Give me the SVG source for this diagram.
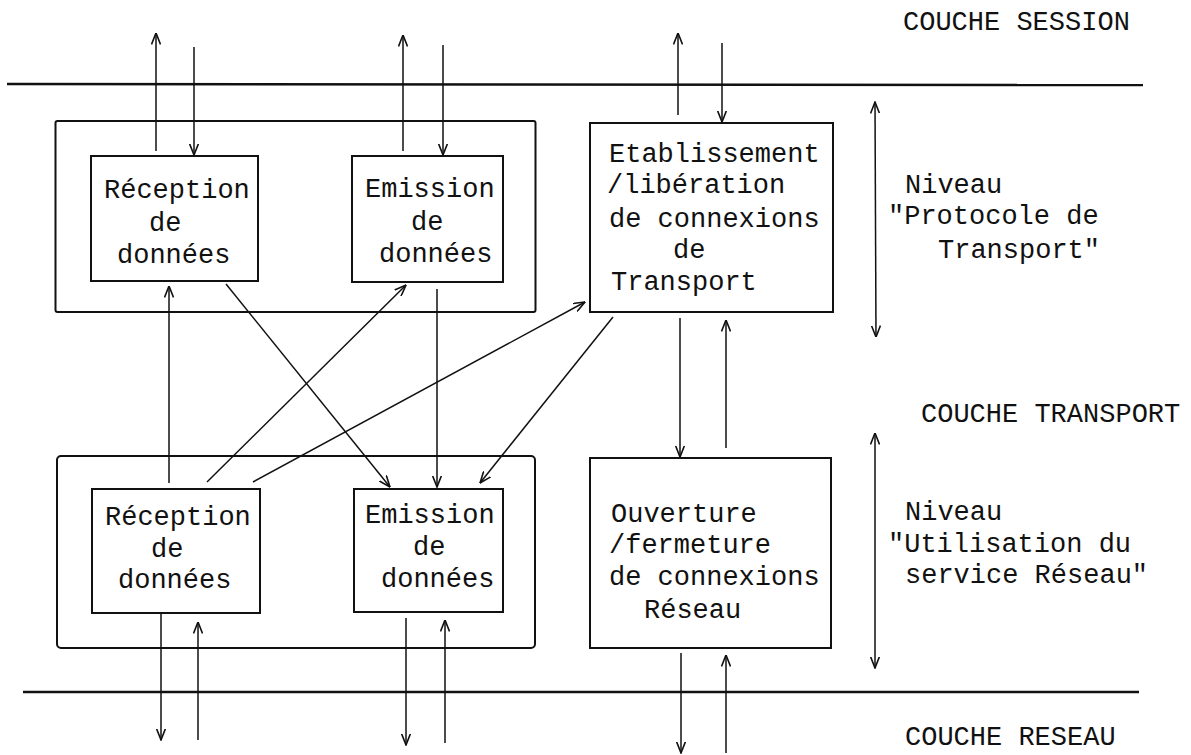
<svg xmlns="http://www.w3.org/2000/svg" width="1191" height="755" viewBox="0 0 1191 755">
<style>
  text { font-family: "Liberation Mono", "DejaVu Sans Mono", monospace; font-size: 27px; fill: #111; }
  .box { fill: none; stroke: #111; stroke-width: 2; }
  .ln { fill: none; stroke: #111; stroke-width: 1.5; }
  .arr { fill: none; stroke: #111; stroke-width: 1.5; marker-end: url(#ah); }
  .dbl { fill: none; stroke: #111; stroke-width: 1.5; marker-start: url(#ah); marker-end: url(#ah); }
  .rule { stroke: #111; stroke-width: 2.5; }
</style>
<defs>
  <marker id="ah" viewBox="0 0 12 10" refX="11.5" refY="5" markerWidth="12" markerHeight="10" orient="auto-start-reverse" markerUnits="userSpaceOnUse">
    <path d="M0,0.5 L11.5,5 L0,9.5" fill="none" stroke="#111" stroke-width="1.6"/>
  </marker>
</defs>
<rect width="1191" height="755" fill="#fff"/>

<g id="layer-lines">
  <line class="rule" x1="7" y1="84" x2="1143" y2="85"/>
  <line class="rule" x1="23" y1="692" x2="1139" y2="692"/>
</g>

<g id="layer-labels">
  <text x="903" y="30">COUCHE SESSION</text>
  <text x="921" y="422">COUCHE TRANSPORT</text>
  <text x="905" y="745">COUCHE RESEAU</text>
</g>

<g id="niveau-protocole">
  <text x="905" y="193">Niveau</text>
  <text x="888" y="224">"Protocole de</text>
  <text x="938" y="258">Transport"</text>
</g>

<g id="niveau-utilisation">
  <text x="905" y="520">Niveau</text>
  <text x="888" y="552">"Utilisation du</text>
  <text x="905" y="583">service Réseau"</text>
</g>

<g id="group-upper">
  <rect class="box" x="55.5" y="121" width="480" height="191" rx="2"/>
</g>
<g id="group-lower">
  <rect class="box" x="57" y="456" width="478" height="192" rx="4"/>
</g>

<g id="reception-upper">
  <rect class="box" x="91" y="156" width="167" height="125"/>
  <text x="104" y="198">Réception</text>
  <text x="149" y="231">de</text>
  <text x="117" y="263">données</text>
</g>

<g id="emission-upper">
  <rect class="box" x="352" y="156" width="151" height="126"/>
  <text x="365" y="197">Emission</text>
  <text x="411" y="230">de</text>
  <text x="379" y="262">données</text>
</g>

<g id="etablissement">
  <rect class="box" x="590" y="123" width="243" height="189"/>
  <text x="609" y="162">Etablissement</text>
  <text x="607" y="193">/libération</text>
  <text x="609" y="227">de connexions</text>
  <text x="673" y="258">de</text>
  <text x="611" y="290">Transport</text>
</g>

<g id="reception-lower">
  <rect class="box" x="92" y="489" width="168" height="124"/>
  <text x="105" y="525">Réception</text>
  <text x="151" y="557">de</text>
  <text x="118" y="588">données</text>
</g>

<g id="emission-lower">
  <rect class="box" x="354" y="489" width="149" height="123"/>
  <text x="365" y="523">Emission</text>
  <text x="413" y="555">de</text>
  <text x="381" y="587">données</text>
</g>

<g id="ouverture">
  <rect class="box" x="590" y="458" width="241" height="190"/>
  <text x="611" y="522">Ouverture</text>
  <text x="609" y="553">/fermeture</text>
  <text x="609" y="585">de connexions</text>
  <text x="644" y="618">Réseau</text>
</g>

<g id="connectors">
  <line class="arr" x1="156" y1="151" x2="156" y2="33"/>
  <line class="arr" x1="194" y1="47" x2="194" y2="155"/>
  <line class="arr" x1="403" y1="151" x2="403" y2="35"/>
  <line class="arr" x1="443" y1="45" x2="443" y2="155"/>
  <line class="arr" x1="678" y1="115" x2="678" y2="33"/>
  <line class="arr" x1="722" y1="43" x2="722" y2="122"/>
  <line class="arr" x1="169" y1="483" x2="169" y2="286"/>
  <line class="arr" x1="226" y1="284" x2="390" y2="487"/>
  <line class="arr" x1="207" y1="482" x2="406" y2="285"/>
  <line class="arr" x1="253" y1="482" x2="585" y2="302"/>
  <line class="arr" x1="437" y1="289" x2="437" y2="487"/>
  <line class="arr" x1="613" y1="317" x2="480" y2="483"/>
  <line class="arr" x1="680" y1="318" x2="680" y2="457"/>
  <line class="arr" x1="726" y1="448" x2="726" y2="320"/>
  <line class="dbl" x1="875" y1="102" x2="876" y2="337"/>
  <line class="dbl" x1="875" y1="433" x2="875" y2="668"/>
  <line class="arr" x1="161" y1="613" x2="161" y2="740"/>
  <line class="arr" x1="198" y1="740" x2="198" y2="622"/>
  <line class="arr" x1="406" y1="618" x2="406" y2="745"/>
  <line class="arr" x1="445" y1="743" x2="445" y2="620"/>
  <line class="arr" x1="681" y1="653" x2="681" y2="753"/>
  <line class="arr" x1="726" y1="753" x2="726" y2="655"/>
</g>
</svg>
